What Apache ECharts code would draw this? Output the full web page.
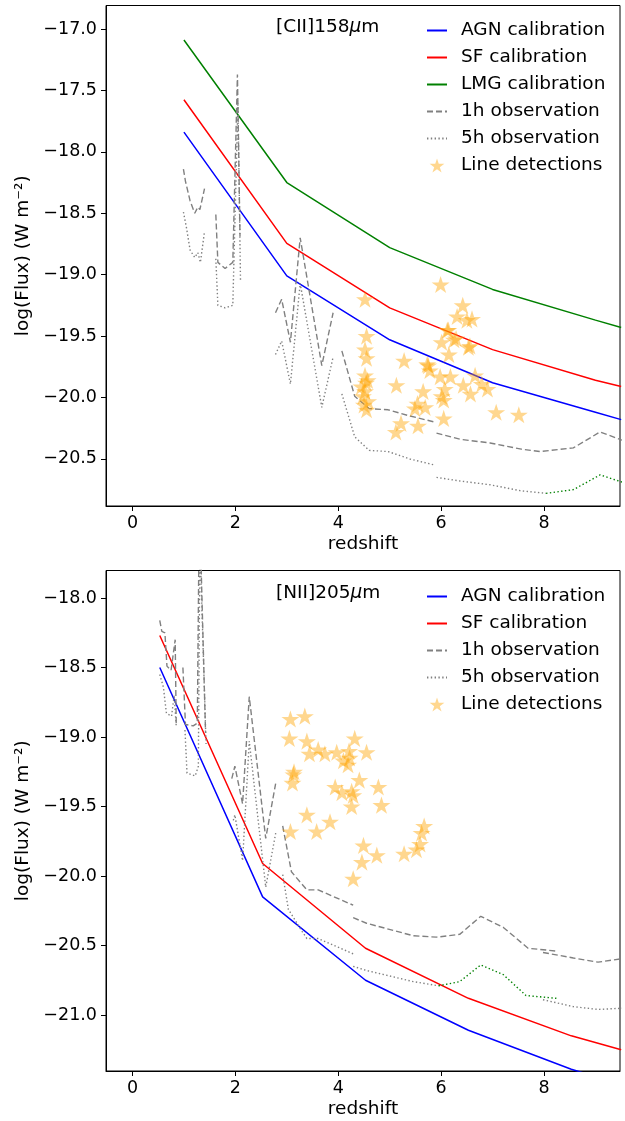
<!DOCTYPE html>
<html><head><meta charset="utf-8">
<script src="https://cdn.jsdelivr.net/npm/echarts@6/dist/echarts.min.js"></script>
<style>html,body{margin:0;padding:0;background:#fff}#c{width:625px;height:1121px}</style>
</head><body><div id="c"></div>
<script>
// ---------- DATA ----------
const xTicks = [0, 2, 4, 6, 8];
const ciiYTicks = [-17.0, -17.5, -18.0, -18.5, -19.0, -19.5, -20.0, -20.5];
const niiYTicks = [-18.0, -18.5, -19.0, -19.5, -20.0, -20.5, -21.0];

// [CII]158um calibrations
const ciiCalZ = [1, 3, 5, 7, 9, 9.5];
const ciiAGN = [-17.84, -19.01, -19.53, -19.88, -20.12, -20.18];
const ciiSF  = [-17.576, -18.745, -19.27, -19.61, -19.86, -19.91];
const ciiLMG = [-17.09, -18.25, -18.78, -19.12, -19.37, -19.43];

// [CII] 1h observation (segments)
const cii1h = [
  [[0.99,-18.14],[1.03,-18.24],[1.12,-18.40],[1.21,-18.50],[1.27,-18.45],[1.31,-18.47],[1.40,-18.30]],
  [[1.62,-18.51],[1.66,-18.90],[1.80,-18.95],[1.95,-18.90],[2.04,-17.37],[2.09,-18.69]],
  [[2.78,-19.31],[2.90,-19.20],[3.07,-19.55],[3.26,-18.70],[3.68,-19.74],[3.90,-19.31]],
  [[4.07,-19.62],[4.32,-19.99],[4.60,-20.09],[4.97,-20.10],[5.39,-20.15],[5.88,-20.20]],
  [[5.91,-20.29],[6.37,-20.34],[6.95,-20.37],[7.56,-20.42],[7.92,-20.44],[8.57,-20.41],[9.09,-20.28],[9.6,-20.36]]
];
// [CII] 5h observation (segments)
const cii5h = [
  [[0.99,-18.49],[1.05,-18.62],[1.12,-18.80],[1.21,-18.86],[1.27,-18.82],[1.32,-18.90],[1.40,-18.65]],
  [[1.62,-18.87],[1.66,-19.25],[1.80,-19.27],[1.95,-19.25],[2.05,-17.60],[2.10,-19.06]],
  [[2.78,-19.65],[2.90,-19.54],[3.07,-19.89],[3.26,-19.07],[3.68,-20.08],[3.90,-19.67]],
  [[4.07,-19.97],[4.32,-20.32],[4.60,-20.43],[4.97,-20.44],[5.39,-20.50],[5.88,-20.55]],
  [[5.91,-20.65],[6.37,-20.68],[6.95,-20.71],[7.56,-20.76],[8.04,-20.78]]
];
const cii5hGreen = [[8.04,-20.78],[8.57,-20.75],[9.09,-20.63],[9.6,-20.70]];

// [CII] line detections
const ciiDetZ = [5.99,4.52,6.42,6.31,6.50,6.60,4.55,6.14,6.01,6.25,6.53,6.56,4.52,4.55,5.28,6.15,5.75,5.78,
  4.52,4.57,4.45,4.52,4.48,4.58,4.50,4.55,4.54,5.13,5.98,6.18,6.66,6.79,6.90,6.43,6.57,6.07,6.01,6.05,
  5.65,5.54,5.69,5.49,7.07,7.51,6.05,5.22,5.55,5.12,6.12,6.29,5.73];
const ciiDetF = [-19.08,-19.20,-19.25,-19.34,-19.37,-19.36,-19.50,-19.45,-19.55,-19.53,-19.59,-19.58,-19.61,-19.68,-19.70,-19.65,-19.74,-19.78,
  -19.82,-19.86,-19.91,-19.95,-19.99,-20.03,-20.06,-20.10,-19.88,-19.90,-19.83,-19.83,-19.82,-19.89,-19.93,-19.90,-19.97,-19.93,-19.99,-20.02,
  -19.95,-20.05,-20.08,-20.09,-20.12,-20.14,-20.17,-20.21,-20.23,-20.28,-19.45,-19.52,-19.73];

// [NII]205um calibrations
const niiCalZ = [0.53, 2.53, 4.53, 6.53, 8.53, 9.5];
const niiAGN = [-18.50, -20.15, -20.75, -21.11, -21.39, -21.50];
const niiSF  = [-18.27, -19.91, -20.52, -20.88, -21.15, -21.25];

const nii1h = [
  [[0.53,-18.16],[0.57,-18.24],[0.63,-18.25],[0.67,-18.49],[0.75,-18.52],[0.83,-18.30],[0.85,-18.90]],
  [[0.98,-18.50],[1.03,-18.91],[1.18,-18.92],[1.26,-18.90],[1.30,-17.30],[1.42,-18.97]],
  [[1.93,-19.30],[1.99,-19.21],[2.14,-19.48],[2.27,-18.71],[2.59,-19.73],[2.79,-19.32]],
  [[2.92,-19.64],[3.09,-19.97],[3.39,-20.10],[3.61,-20.10],[4.29,-20.21]],
  [[4.29,-20.30],[4.55,-20.34],[5.46,-20.43],[5.91,-20.44],[6.36,-20.42],[6.77,-20.29],[7.21,-20.37],[7.69,-20.52],[8.24,-20.54]],
  [[7.98,-20.55],[8.57,-20.59],[9.05,-20.62],[9.6,-20.59]]
];
const nii5h = [
  [[0.53,-18.55],[0.60,-18.64],[0.66,-18.83],[0.76,-18.85],[0.81,-18.70],[0.85,-18.92]],
  [[1.02,-18.95],[1.06,-19.26],[1.22,-19.28],[1.28,-19.21],[1.31,-17.60],[1.43,-19.05]],
  [[1.96,-19.60],[1.99,-19.56],[2.14,-19.89],[2.27,-19.03],[2.59,-20.08],[2.79,-19.68]],
  [[2.92,-19.99],[3.03,-20.24],[3.30,-20.40],[3.39,-20.45],[3.61,-20.45],[4.29,-20.56]],
  [[4.29,-20.65],[4.55,-20.68],[5.46,-20.76],[5.95,-20.79]],
  [[7.98,-20.89],[8.57,-20.94],[9.05,-20.96],[9.6,-20.95]]
];
const nii5hGreen = [[5.95,-20.79],[6.36,-20.76],[6.77,-20.64],[7.21,-20.71],[7.65,-20.86],[8.24,-20.88]];

const niiDetZ = [3.07,3.35,3.05,3.39,3.44,3.61,3.74,3.97,4.21,4.32,4.55,4.10,4.19,4.22,3.14,3.11,3.13,4.41,3.94,
  4.07,4.26,4.29,4.78,4.26,4.84,3.39,3.84,3.07,3.58,5.67,5.62,4.49,5.59,5.52,5.28,4.75,4.46,4.29];
const niiDetF = [-18.87,-18.85,-19.01,-19.03,-19.12,-19.09,-19.12,-19.11,-19.10,-19.01,-19.11,-19.17,-19.20,-19.15,-19.25,-19.33,-19.27,-19.31,-19.36,
  -19.40,-19.39,-19.42,-19.36,-19.50,-19.49,-19.56,-19.61,-19.68,-19.68,-19.64,-19.69,-19.78,-19.77,-19.81,-19.84,-19.85,-19.90,-20.02];

// ---------- BUILD ----------
const zip = (xs, ys) => xs.map((x, i) => [x, ys[i]]);
const joinSeg = segs => segs.reduce((acc, s, i) => {
  if (i) acc.push([s[0][0], null]);
  return acc.concat(s);
}, []);
const STAR = 'path://M100,0 L122.45,69.1 L195.11,69.1 L136.33,111.8 L158.78,180.9 L100,138.2 L41.22,180.9 L63.67,111.8 L4.89,69.1 L77.55,69.1 Z';
const FONT = 'DejaVu Sans';
const FS = 18.5;   // labels, legend, title
const TFS = 17.5;  // tick labels
const minus = v => (v < 0 ? '\u2212' : '') + Math.abs(v).toFixed(1);

function mkX(idx) {
  return {
    type: 'value', gridIndex: idx, min: -0.515, max: 9.477,
    name: 'redshift', nameLocation: 'middle', nameGap: 29,
    nameTextStyle: { fontFamily: FONT, fontSize: FS, color: '#000' },
    axisLine: { show: true, onZero: false, lineStyle: { color: '#000', width: 1 } },
    axisTick: { show: true, length: 5, inside: false, customValues: xTicks, lineStyle: { color: '#000' } },
    axisLabel: { customValues: xTicks, margin: 8, fontFamily: FONT, fontSize: TFS, color: '#000', formatter: v => String(v) },
    splitLine: { show: false }
  };
}
function mkY(idx, mn, mx, ticks) {
  return {
    type: 'value', gridIndex: idx, min: mn, max: mx,
    name: 'log(Flux) (W m\u207B\u00B2)', nameLocation: 'middle', nameGap: 67, nameRotate: 90,
    nameTextStyle: { fontFamily: FONT, fontSize: FS, color: '#000' },
    axisLine: { show: true, onZero: false, lineStyle: { color: '#000', width: 1 } },
    axisTick: { show: true, length: 5, inside: false, customValues: ticks, lineStyle: { color: '#000' } },
    axisLabel: { customValues: ticks, margin: 9, fontFamily: FONT, fontSize: TFS, color: '#000', formatter: minus },
    splitLine: { show: false }
  };
}
function line(name, data, color, type, idx) {
  return {
    type: 'line', name, data, xAxisIndex: idx, yAxisIndex: idx,
    symbol: 'none', showSymbol: false, connectNulls: false, clip: true, animation: false,
    lineStyle: { color, width: type === 'solid' ? 1.5 : 1.4, type },
    itemStyle: { color }, z: 3
  };
}
const DASH = [6, 3];
const DOT = [1.4, 2.4];
const GREY = '#808080';
function stars(z, f, idx) {
  return {
    type: 'scatter', name: 'Line detections', data: zip(z, f), xAxisIndex: idx, yAxisIndex: idx,
    symbol: STAR, symbolSize: 18, symbolKeepAspect: true, animation: false,
    itemStyle: { color: 'rgba(255,165,0,0.55)' }, z: 4
  };
}
function titleRich(txt, top) {
  const base = { fontFamily: FONT, fontSize: FS, color: '#000', fontWeight: 'normal' };
  return {
    text: '{a|' + txt + '}{b|\u03BC}{a|m}', left: 276, top, padding: 0,
    textStyle: { fontWeight: 'normal', rich: { a: base, b: Object.assign({}, base, { fontStyle: 'italic' }) } }
  };
}
function legend(top, names) {
  return {
    orient: 'vertical', left: 426, top, padding: 0, itemWidth: 20, itemHeight: 14, itemGap: 8,
    data: names.map(n => n === 'Line detections' ? { name: n } : { name: n, itemStyle: { opacity: 0 } }),
    selectedMode: false,
    textStyle: { fontFamily: FONT, fontSize: FS, color: '#000', padding: [0, 0, 0, 9] }
  };
}

const option = {
  backgroundColor: '#fff',
  animation: false,
  title: [titleRich('[CII]158', 18), titleRich('[NII]205', 584)],
  legend: [
    legend(21, ['AGN calibration', 'SF calibration', 'LMG calibration', '1h observation', '5h observation', 'Line detections']),
    legend(587, ['AGN calibration', 'SF calibration', '1h observation', '5h observation', 'Line detections'])
  ],
  grid: [
    { left: 106, top: 5.5, width: 514, height: 500.5, show: true, borderColor: '#000', borderWidth: 1, containLabel: false },
    { left: 106, top: 570.5, width: 514, height: 500.5, show: true, borderColor: '#000', borderWidth: 1, containLabel: false }
  ],
  xAxis: [mkX(0), mkX(1)],
  yAxis: [mkY(0, -20.883, -16.809, ciiYTicks), mkY(1, -21.403, -17.802, niiYTicks)],
  series: [
    line('AGN calibration', zip(ciiCalZ, ciiAGN), '#0000ff', 'solid', 0),
    line('SF calibration', zip(ciiCalZ, ciiSF), '#ff0000', 'solid', 0),
    line('LMG calibration', zip(ciiCalZ, ciiLMG), '#008000', 'solid', 0),
    line('1h observation', joinSeg(cii1h), GREY, DASH, 0),
    line('5h observation', joinSeg(cii5h), GREY, DOT, 0),
    line('5h observation (band)', cii5hGreen, '#008000', DOT, 0),
    stars(ciiDetZ, ciiDetF, 0),
    line('AGN calibration', zip(niiCalZ, niiAGN), '#0000ff', 'solid', 1),
    line('SF calibration', zip(niiCalZ, niiSF), '#ff0000', 'solid', 1),
    line('1h observation', joinSeg(nii1h), GREY, DASH, 1),
    line('5h observation', joinSeg(nii5h), GREY, DOT, 1),
    line('5h observation (band)', nii5hGreen, '#008000', DOT, 1),
    stars(niiDetZ, niiDetF, 1)
  ]
};
const chart = echarts.init(document.getElementById('c'), null, { renderer: 'canvas' });
chart.setOption(option);
</script></body></html>
